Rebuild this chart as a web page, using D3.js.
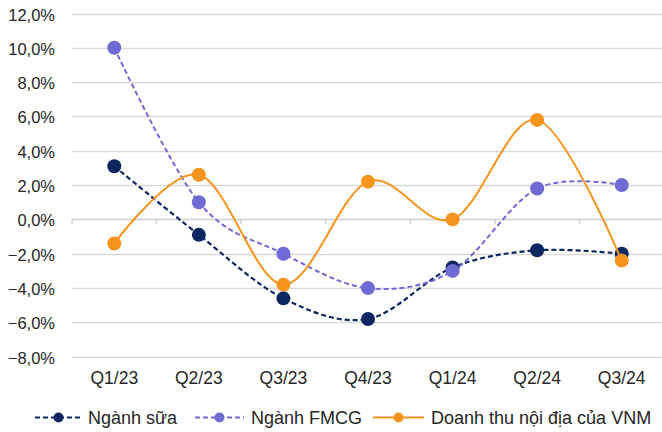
<!DOCTYPE html>
<html>
<head>
<meta charset="utf-8">
<script src="https://cdn.jsdelivr.net/npm/d3@7"></script>
<style>
  html, body { margin: 0; padding: 0; background: #fff; }
  svg { display: block; font-family: "Liberation Sans", Arial, sans-serif; }
</style>
</head>
<body>
<svg id="chart" width="662" height="432"></svg>
<script>
const categories = ["Q1/23", "Q2/23", "Q3/23", "Q4/23", "Q1/24", "Q2/24", "Q3/24"];
const nganhSua = [3.1, -0.9, -4.6, -5.8, -2.8, -1.8, -2.0];
const nganhFMCG = [10.0, 1.0, -2.0, -4.0, -3.0, 1.8, 2.0];
const vnmNoiDia = [-1.4, 2.6, -3.8, 2.2, 0.0, 5.8, -2.4];
const yTicks = [12, 10, 8, 6, 4, 2, 0, -2, -4, -6, -8];
const seriesNames = ["Ngành sữa", "Ngành FMCG", "Doanh thu nội địa của VNM"];

const series = [
  { name: seriesNames[0], values: nganhSua, color: "#0b2660", dash: "5,3", width: 2.2 },
  { name: seriesNames[1], values: nganhFMCG, color: "#6f6ad4", dash: "5,3", width: 2 },
  { name: seriesNames[2], values: vnmNoiDia, color: "#f7941d", dash: null, width: 2 }
];

const svg = d3.select("#chart");
const x = d3.scaleBand().domain(categories).range([72, 664]);
const y = d3.scaleLinear().domain([-8, 12]).range([356.7, 13.5]);

const fmt = v => d3.format(".1f")(v).replace(".", ",") + "%";

// gridlines
svg.append("g").selectAll("line").data(yTicks.filter(t => t !== 0)).join("line")
  .attr("x1", 72).attr("x2", 664)
  .attr("y1", d => Math.round(y(d)) + 0.5).attr("y2", d => Math.round(y(d)) + 0.5)
  .attr("stroke", "#d9d9d9").attr("stroke-width", 1.5);

// zero axis with ticks
const y0 = Math.round(y(0)) + 0.5;
svg.append("line").attr("x1", 72).attr("x2", 664).attr("y1", y0).attr("y2", y0)
  .attr("stroke", "#d0d0d0").attr("stroke-width", 1.5);
const bounds = categories.map(c => x(c)).concat([x.range()[1]]);
svg.append("g").selectAll("line").data(bounds).join("line")
  .attr("x1", d => d).attr("x2", d => d).attr("y1", y0).attr("y2", y0 + 4.5)
  .attr("stroke", "#d0d0d0").attr("stroke-width", 1.5);

// y labels
svg.append("g").selectAll("text").data(yTicks).join("text")
  .attr("x", 55).attr("y", d => y(d) + 7)
  .attr("text-anchor", "end").attr("font-size", 16.5).attr("fill", "#262626")
  .text(fmt);

// x labels
svg.append("g").selectAll("text").data(categories).join("text")
  .attr("x", d => x(d) + x.bandwidth() / 2).attr("y", 383.5)
  .attr("text-anchor", "middle").attr("font-size", 17.5).attr("fill", "#262626")
  .text(d => d);

const line = d3.line()
  .x((d, i) => x(categories[i]) + x.bandwidth() / 2)
  .y(d => y(d))
  .curve(d3.curveCardinal.tension(0));

series.forEach(s => {
  const g = svg.append("g");
  g.append("path").attr("d", line(s.values)).attr("fill", "none")
    .attr("stroke", s.color).attr("stroke-width", s.width)
    .attr("stroke-dasharray", s.dash);
  g.selectAll("circle").data(s.values).join("circle")
    .attr("cx", (d, i) => x(categories[i]) + x.bandwidth() / 2)
    .attr("cy", d => y(d)).attr("r", 7).attr("fill", s.color);
});

// legend
const legendItems = [
  { x1: 35, x2: 82, tx: 88 },
  { x1: 195, x2: 244, tx: 251 },
  { x1: 373, x2: 424, tx: 431 }
];
const ly = 417.5;
series.forEach((s, i) => {
  const L = legendItems[i];
  const g = svg.append("g");
  g.append("line").attr("x1", L.x1).attr("x2", L.x2).attr("y1", ly).attr("y2", ly)
    .attr("stroke", s.color).attr("stroke-width", s.width).attr("stroke-dasharray", s.dash);
  g.append("circle").attr("cx", (L.x1 + L.x2) / 2).attr("cy", ly).attr("r", 5).attr("fill", s.color);
  g.append("text").attr("x", L.tx).attr("y", 424)
    .attr("font-size", 18).attr("fill", "#262626").text(s.name);
});
</script>
</body>
</html>
